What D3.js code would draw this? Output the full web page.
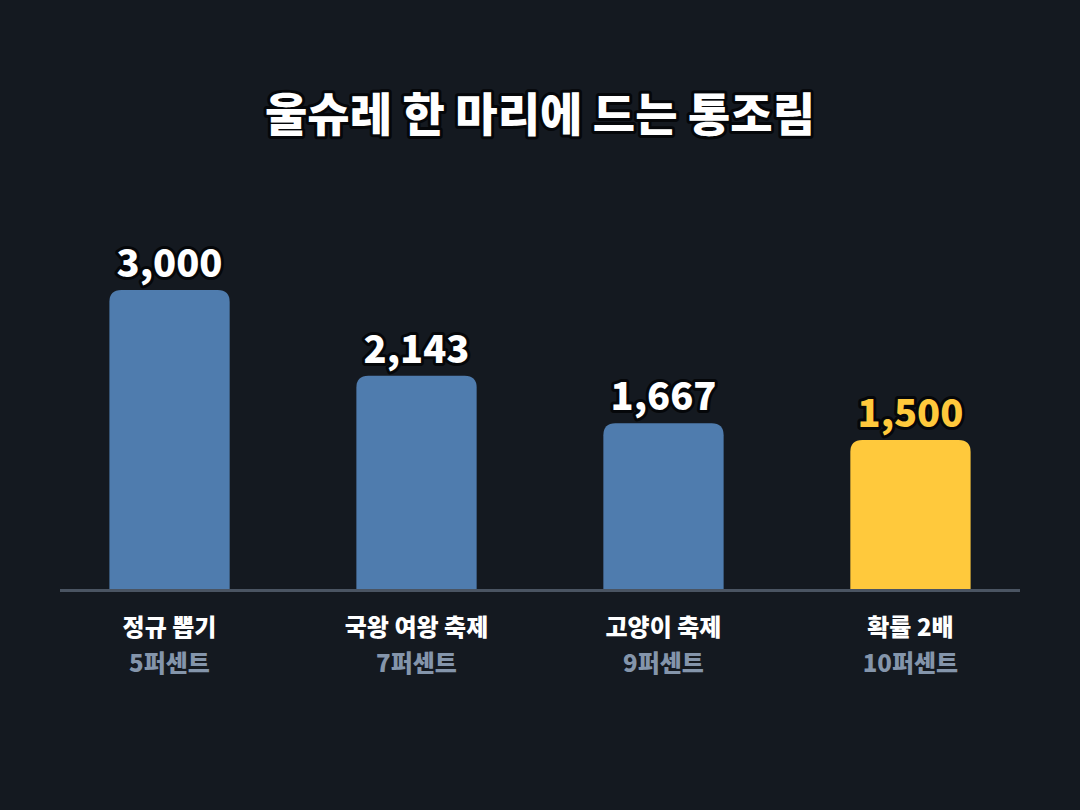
<!DOCTYPE html>
<html>
<head>
<meta charset="utf-8">
<script src="https://cdn.jsdelivr.net/npm/d3@7"></script>
<style>
  html, body { margin: 0; padding: 0; background: #141920; }
  svg text { font-family: "Noto Sans CJK KR", "Noto Sans", sans-serif; }
</style>
</head>
<body>
<div class="svg-container"></div>
<script>
// data
var categories = ["정규 뽑기", "국왕 여왕 축제", "고양이 축제", "확률 2배"];
var subLabels = ["5퍼센트", "7퍼센트", "9퍼센트", "10퍼센트"];
var values = [3000, 2143, 1667, 1500];
var highlight = [false, false, false, true];

var W = 1080, H = 810;
var svg = d3.select(".svg-container").append("svg")
    .attr("width", W)
    .attr("height", H);

svg.append("rect").attr("width", W).attr("height", H).attr("fill", "#141920");

var x = d3.scaleBand()
    .domain(categories)
    .range([60, 1020])
    .paddingInner(0.513)
    .paddingOuter(0.2);

var y = d3.scaleLinear()
    .domain([0, 3000])
    .range([590, 290]);

// title
svg.append("text")
    .attr("x", W / 2)
    .attr("y", 131)
    .attr("text-anchor", "middle")
    .attr("font-size", "46px")
    .attr("font-weight", 900)
    .attr("fill", "#ffffff")
    .attr("stroke", "#05070a")
    .attr("stroke-width", 6)
    .attr("stroke-linejoin", "round")
    .attr("paint-order", "stroke")
    .text("울슈레 한 마리에 드는 통조림");

// bars with rounded top corners
var r = 12;
function barPath(d, i) {
    var x0 = x(categories[i]), w = x.bandwidth();
    var yt = y(d), yb = y(0);
    return "M" + x0 + "," + yb +
        "V" + (yt + r) +
        "Q" + x0 + "," + yt + " " + (x0 + r) + "," + yt +
        "H" + (x0 + w - r) +
        "Q" + (x0 + w) + "," + yt + " " + (x0 + w) + "," + (yt + r) +
        "V" + yb + "Z";
}

svg.selectAll(".bar").data(values)
    .enter()
    .append("path")
    .attr("class", "bar")
    .attr("d", barPath)
    .attr("fill", function(d, i) { return highlight[i] ? "#ffc93c" : "#4f7cae"; });

// baseline
svg.append("line")
    .attr("x1", 60).attr("x2", 1020)
    .attr("y1", y(0) + 0.5).attr("y2", y(0) + 0.5)
    .attr("stroke", "#4a5462")
    .attr("stroke-width", 3);

// value labels
var fmt = d3.format(",");
svg.selectAll(".val").data(values)
    .enter()
    .append("text")
    .attr("class", "val")
    .attr("x", function(d, i) { return x(categories[i]) + x.bandwidth() / 2; })
    .attr("y", function(d) { return y(d) - 13; })
    .attr("text-anchor", "middle")
    .attr("font-size", "38px")
    .attr("font-weight", 900)
    .attr("fill", function(d, i) { return highlight[i] ? "#ffc93c" : "#ffffff"; })
    .attr("stroke", "#05070a")
    .attr("stroke-width", 6)
    .attr("stroke-linejoin", "round")
    .attr("paint-order", "stroke")
    .text(function(d) { return fmt(d); });

// category labels
svg.selectAll(".cat").data(categories)
    .enter()
    .append("text")
    .attr("class", "cat")
    .attr("x", function(d) { return x(d) + x.bandwidth() / 2; })
    .attr("y", 636)
    .attr("text-anchor", "middle")
    .attr("font-size", "24px")
    .attr("font-weight", 900)
    .attr("fill", "#ffffff")
    .text(function(d) { return d; });

svg.selectAll(".sub").data(subLabels)
    .enter()
    .append("text")
    .attr("class", "sub")
    .attr("x", function(d, i) { return x(categories[i]) + x.bandwidth() / 2; })
    .attr("y", 672)
    .attr("text-anchor", "middle")
    .attr("font-size", "24px")
    .attr("font-weight", 900)
    .attr("fill", "#8495ab")
    .text(function(d) { return d; });
</script>
</body>
</html>
